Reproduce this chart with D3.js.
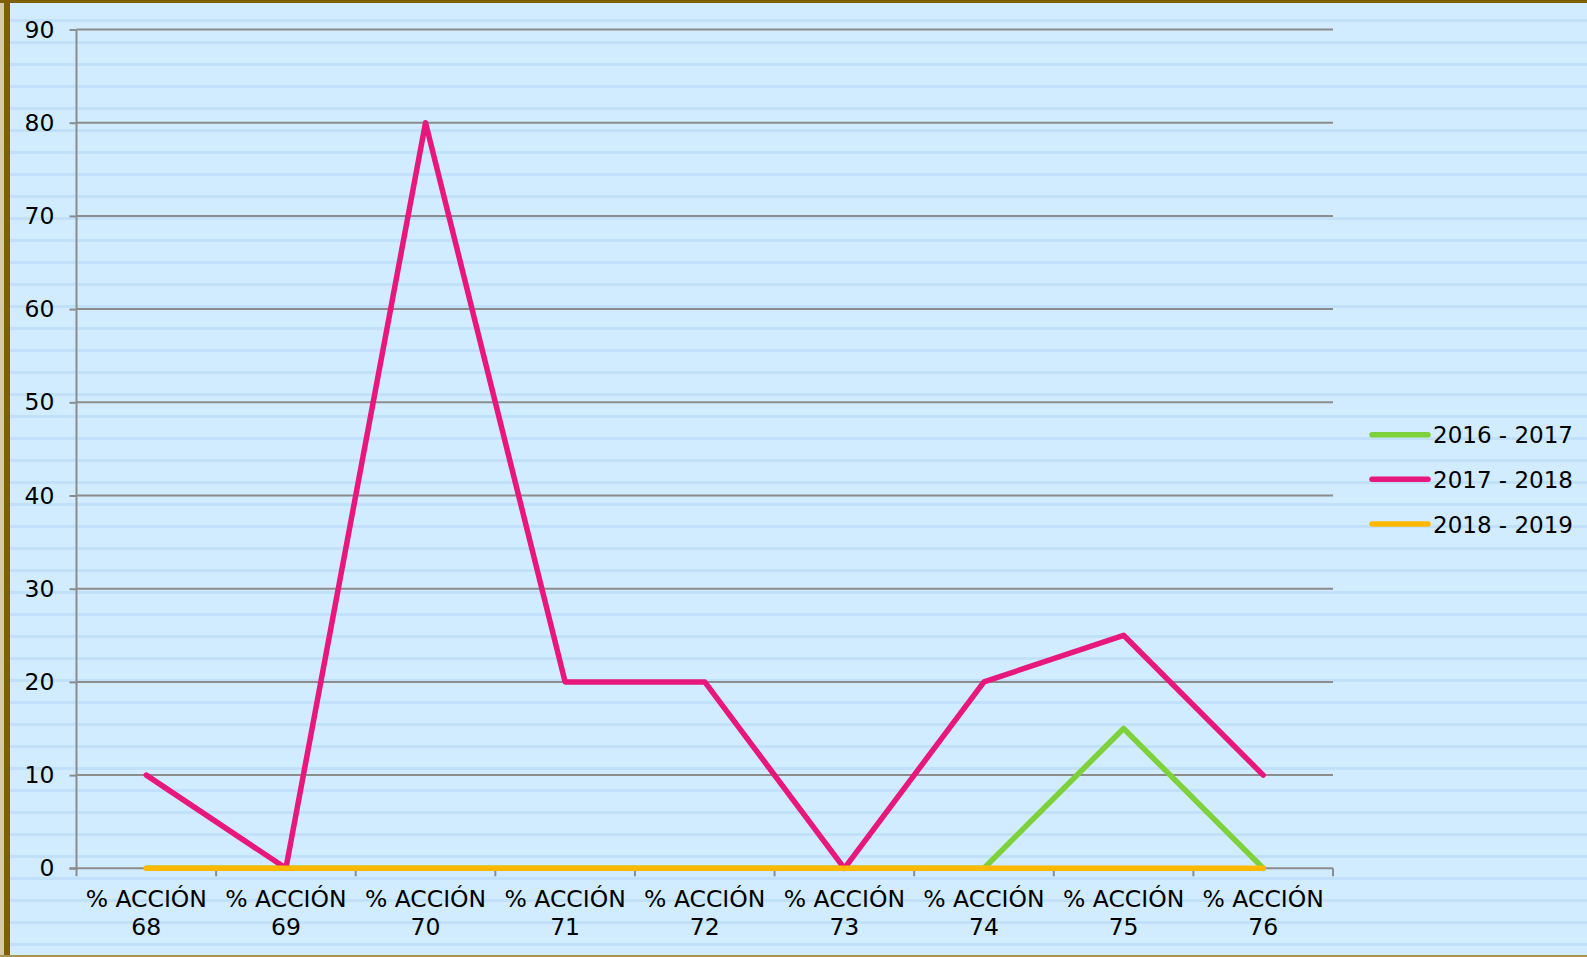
<!DOCTYPE html>
<html>
<head>
<meta charset="utf-8">
<script src="https://cdn.jsdelivr.net/npm/d3@7"></script>
<style>
html,body{margin:0;padding:0;background:#D1EBFF;}
svg{display:block;}
text{font-family:"DejaVu Sans",sans-serif;fill:#000;}
</style>
</head>
<body>
<svg id="chart" width="1587" height="957"></svg>
<script>
const categories = ["% ACCIÓN 68","% ACCIÓN 69","% ACCIÓN 70","% ACCIÓN 71","% ACCIÓN 72","% ACCIÓN 73","% ACCIÓN 74","% ACCIÓN 75","% ACCIÓN 76"];
const seriesNames = ["2016 - 2017","2017 - 2018","2018 - 2019"];
const values2016 = [0,0,0,0,0,0,0,15,0];
const values2017 = [10,0,80,20,20,0,20,25,10];
const values2018 = [0,0,0,0,0,0,0,0,0];
const yTicks = [0,10,20,30,40,50,60,70,80,90];
const colors = ["#7DD13A","#E8177E","#FFB800"];

(function(){
const svg = d3.select("#chart");
const W = 1587, H = 957;

// striped background
const defs = svg.append("defs");
const pat = defs.append("pattern").attr("id","stripes").attr("patternUnits","userSpaceOnUse")
  .attr("width",W).attr("height",22);
pat.append("rect").attr("width",W).attr("height",22).attr("fill","#D1EBFF");
pat.append("rect").attr("y",19).attr("width",W).attr("height",6).attr("fill","#C1E0FA");
svg.append("rect").attr("width",W).attr("height",H).attr("fill","url(#stripes)");

// borders
svg.append("rect").attr("x",0).attr("y",0).attr("width",4).attr("height",H).attr("fill","#D6CBA8");
svg.append("rect").attr("x",4).attr("y",0).attr("width",6).attr("height",H).attr("fill","#7F6000");
svg.append("rect").attr("x",0).attr("y",0).attr("width",W).attr("height",3).attr("fill","#7F6000");
svg.append("rect").attr("x",0).attr("y",955).attr("width",W).attr("height",2).attr("fill","#A49552");

const pL = 76.5, pR = 1333, pT = 29.5, pB = 868.3;
const x = d3.scaleBand().domain(categories).range([pL,pR]).padding(0);
const y = d3.scaleLinear().domain([0,90]).range([pB,pT]);

// gridlines
svg.append("g").selectAll("line").data(yTicks.filter(d=>d>0)).join("line")
  .attr("x1",pL).attr("x2",pR).attr("y1",d=>y(d)).attr("y2",d=>y(d))
  .attr("stroke","#8C8C8C").attr("stroke-width",2);

// y axis
const yAxis = d3.axisLeft(y).tickValues(yTicks).tickSize(7).tickPadding(15).tickFormat(d3.format("d"));
const gy = svg.append("g").attr("transform",`translate(${pL},0)`).call(yAxis);
gy.select(".domain").attr("stroke","#8C8C8C").attr("stroke-width",2).attr("d",`M0,${pT}V${pB}`);
gy.selectAll(".tick line").attr("stroke","#8C8C8C").attr("stroke-width",2);
gy.selectAll(".tick text").attr("font-size",23.5).attr("font-family","DejaVu Sans").attr("fill","#000");

// x axis
const gx = svg.append("g").attr("transform",`translate(0,${pB})`);
gx.append("line").attr("x1",pL-7).attr("x2",pR).attr("y1",0).attr("y2",0)
  .attr("stroke","#8C8C8C").attr("stroke-width",2);
const boundaries = categories.map(c=>x(c)).concat([pR]);
gx.selectAll("line.tk").data(boundaries).join("line").attr("class","tk")
  .attr("x1",d=>d).attr("x2",d=>d).attr("y1",0).attr("y2",8)
  .attr("stroke","#8C8C8C").attr("stroke-width",2);
const lbl = gx.selectAll("text.lbl").data(categories).join("text").attr("class","lbl")
  .attr("x",d=>x(d)+x.bandwidth()/2).attr("text-anchor","middle").attr("font-size",23.5);
lbl.append("tspan").attr("x",d=>x(d)+x.bandwidth()/2).attr("y",39).text(d=>d.split(" ").slice(0,2).join(" "));
lbl.append("tspan").attr("x",d=>x(d)+x.bandwidth()/2).attr("y",67).text(d=>d.split(" ")[2]);

// lines
const allSeries = [values2016, values2017, values2018];
const line = d3.line().x((d,i)=>x(categories[i])+x.bandwidth()/2).y(d=>y(d));
svg.append("g").selectAll("path").data(allSeries).join("path")
  .attr("d",d=>line(d)).attr("fill","none")
  .attr("stroke",(d,i)=>colors[i]).attr("stroke-width",5.5)
  .attr("stroke-linecap","round").attr("stroke-linejoin","round");

// legend
const lg = svg.append("g");
const ly = [434.7,479.3,524];
seriesNames.forEach((n,i)=>{
  lg.append("line").attr("x1",1372).attr("x2",1428).attr("y1",ly[i]).attr("y2",ly[i])
    .attr("stroke",colors[i]).attr("stroke-width",5.5).attr("stroke-linecap","round");
  lg.append("text").attr("x",1433).attr("y",ly[i]+8.5).attr("font-size",23).text(n);
});
})();
</script>
</body>
</html>
